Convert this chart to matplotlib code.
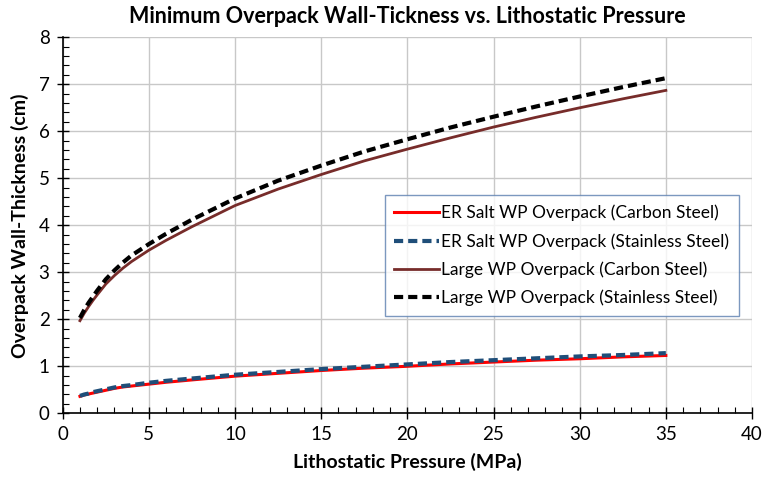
import numpy as np
import matplotlib.pyplot as plt
from matplotlib.ticker import MultipleLocator

plt.rcParams['font.family'] = ['Lato', 'DejaVu Sans']

# lithostatic pressure (MPa)
pressure = [1, 1.25, 1.5, 1.75, 2, 2.5, 3, 3.5, 4, 5, 6, 7.5, 10, 12.5, 15, 17.5,
            20, 22.5, 25, 27.5, 30, 32.5, 35]

# minimum wall thickness (cm)
er_carbon = [0.36, 0.39, 0.41, 0.43, 0.45, 0.49, 0.53, 0.56, 0.58, 0.62, 0.66, 0.71,
             0.79, 0.85, 0.91, 0.96, 1.00, 1.05, 1.09, 1.13, 1.16, 1.20, 1.23]
er_stainless = [0.37, 0.40, 0.42, 0.45, 0.47, 0.51, 0.55, 0.58, 0.60, 0.65, 0.69, 0.74,
                0.82, 0.88, 0.94, 0.99, 1.04, 1.09, 1.13, 1.17, 1.21, 1.24, 1.28]
large_carbon = [1.97, 2.13, 2.27, 2.40, 2.52, 2.75, 2.93, 3.09, 3.23, 3.47, 3.68, 3.97,
                4.42, 4.77, 5.08, 5.37, 5.62, 5.86, 6.09, 6.30, 6.50, 6.69, 6.87]
large_stainless = [2.03, 2.20, 2.35, 2.48, 2.61, 2.85, 3.04, 3.21, 3.36, 3.60, 3.82, 4.12,
                   4.57, 4.95, 5.27, 5.57, 5.83, 6.08, 6.31, 6.53, 6.74, 6.94, 7.13]

fig = plt.figure(figsize=(7.63, 4.78), dpi=100)
ax = fig.add_axes([0.0822, 0.1354, 0.9034, 0.7866])

ax.plot(pressure, er_carbon, color='#ff0000', lw=2.2, label='ER Salt WP Overpack (Carbon Steel)')
ax.plot(pressure, er_stainless, color='#1f4e79', lw=3, ls=(0, (2.2, 1.2)),
        label='ER Salt WP Overpack (Stainless Steel)')
ax.plot(pressure, large_carbon, color='#772c2a', lw=2, label='Large WP Overpack (Carbon Steel)')
ax.plot(pressure, large_stainless, color='black', lw=3, ls=(0, (2.2, 1.2)),
        label='Large WP Overpack (Stainless Steel)')

ax.set_xlim(0, 40)
ax.set_ylim(0, 8)
ax.xaxis.set_major_locator(MultipleLocator(5))
ax.xaxis.set_minor_locator(MultipleLocator(1))
ax.yaxis.set_major_locator(MultipleLocator(1))
ax.yaxis.set_minor_locator(MultipleLocator(0.2))
ax.tick_params(which='major', direction='inout', length=9, width=1, labelsize=13.5, pad=5)
ax.tick_params(which='minor', direction='in', length=4, width=0.8)

ax.grid(True, which='major', color='#c8c8c8', lw=1)
ax.set_axisbelow(True)
for side in ['top', 'right']:
    ax.spines[side].set_visible(False)
for side in ['left', 'bottom']:
    ax.spines[side].set_linewidth(1.2)

ax.set_title('Minimum Overpack Wall-Tickness vs. Lithostatic Pressure',
             fontsize=15.5, fontweight='bold', pad=10)
ax.set_xlabel('Lithostatic Pressure (MPa)', fontsize=14, fontweight='bold', labelpad=7)
ax.set_ylabel('Overpack Wall-Thickness (cm)', fontsize=14, fontweight='bold', labelpad=7)

leg = ax.legend(loc='upper left', bbox_to_anchor=(0.467, 0.58), fontsize=12.5,
                frameon=True, fancybox=False, handlelength=2.6, handletextpad=0.1,
                labelspacing=0.68, borderpad=0.55, borderaxespad=0)
leg.get_frame().set_edgecolor('#5b7fb0')
leg.get_frame().set_linewidth(1)

fig.savefig('out.png', dpi=100)
